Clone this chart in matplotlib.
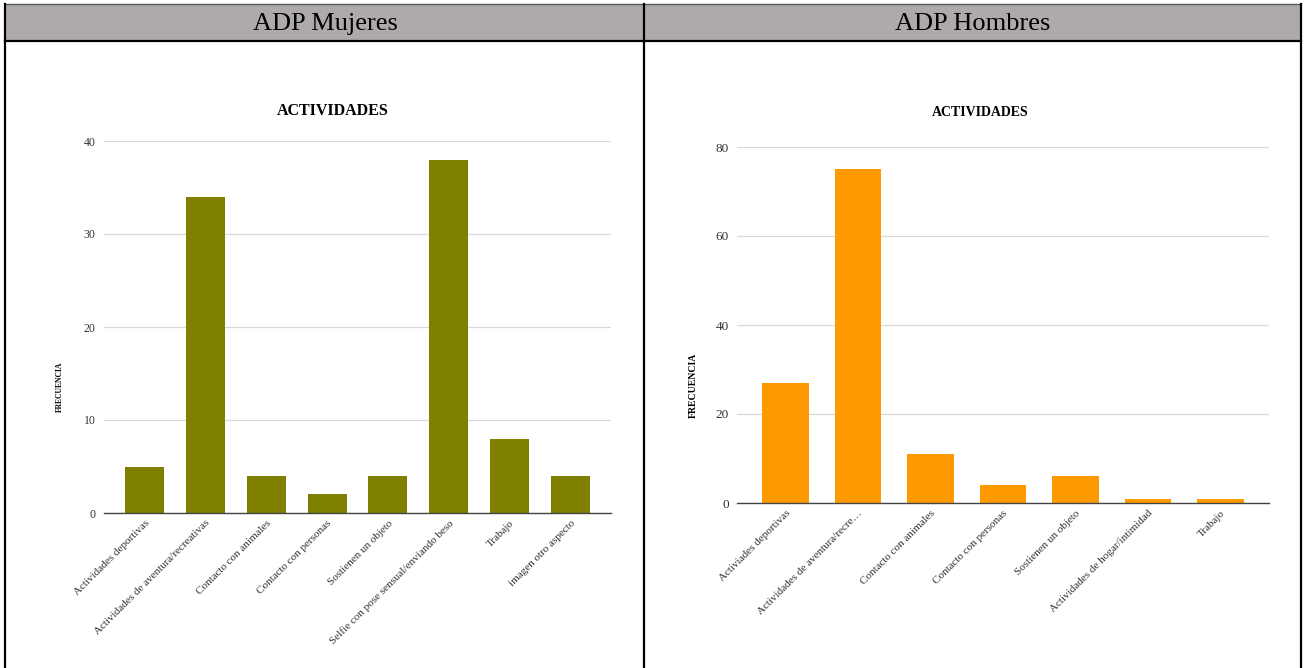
import matplotlib
matplotlib.use('Agg')
import matplotlib.pyplot as plt
from matplotlib.patches import Rectangle
from matplotlib.lines import Line2D

plt.rcParams['font.family'] = ['Liberation Serif', 'DejaVu Serif']

# ADP Mujeres
cats_m = ['Actividades deportivas', 'Actividades de aventura/recreativas',
          'Contacto con animales', 'Contacto con personas', 'Sostienen un objeto',
          'Selfie con pose sensual/enviando beso', 'Trabajo', 'imagen otro aspecto']
vals_m = [5, 34, 4, 2, 4, 38, 8, 4]

# ADP Hombres
cats_h = ['Activiades deportivas', 'Actividades de aventura/recre…',
          'Contacto con animales', 'Contacto con personas', 'Sostienen un objeto',
          'Actividades de hogar/intimidad', 'Trabajo']
vals_h = [27, 75, 11, 4, 6, 1, 1]

W, H = 1306, 668
fig = plt.figure(figsize=(W / 100, H / 100), dpi=100)


def fx(px):
    return px / W


def fy(py):
    return 1 - py / H


# table frame with gray header row
fig.add_artist(Rectangle((fx(5), fy(41)), fx(1301) - fx(5), fy(4) - fy(41),
                         transform=fig.transFigure, facecolor='#aeaaaa',
                         edgecolor='none', zorder=0))
fig.add_artist(Line2D([fx(5), fx(1301)], [fy(4), fy(4)],
                      transform=fig.transFigure, color='#555555', lw=1.0))
lines = [((5, 1301), (41, 41)),
         ((5, 5), (4, 668)), ((644, 644), (4, 668)), ((1301, 1301), (4, 668))]
for xs, ys in lines:
    fig.add_artist(Line2D([fx(x) for x in xs], [fy(y) for y in ys],
                          transform=fig.transFigure, color='black', lw=1.6))

fig.text(fx(325), fy(24), 'ADP Mujeres', ha='center', va='center', fontsize=19)
fig.text(fx(973), fy(24), 'ADP Hombres', ha='center', va='center', fontsize=19)


def bar_chart(rect, cats, vals, color, ymax, step, tick_fs, lab_fs):
    ax = fig.add_axes(rect)
    x = range(len(cats))
    ax.bar(x, vals, width=0.64, color=color, zorder=3)
    ax.set_xlim(-0.67, len(cats) - 0.33)
    ax.set_ylim(0, ymax)
    ax.set_yticks(range(0, ymax + 1, step))
    ax.yaxis.grid(True, color='#d9d9d9', lw=0.9, zorder=0)
    for s in ['top', 'right', 'left']:
        ax.spines[s].set_visible(False)
    ax.spines['bottom'].set_color('#444444')
    ax.spines['bottom'].set_linewidth(1)
    ax.spines['bottom'].set_zorder(4)
    ax.tick_params(axis='both', length=0, colors='#333333')
    ax.tick_params(axis='y', labelsize=tick_fs, pad=6)
    ax.set_xticks(list(x))
    ax.set_xticklabels(cats, rotation=45, ha='right', rotation_mode='anchor',
                       fontsize=lab_fs)
    ax.tick_params(axis='x', pad=4)
    return ax


bar_chart([fx(104), fy(513), fx(611) - fx(104), fy(141) - fy(513)],
          cats_m, vals_m, '#808000', 40, 10, 8.5, 8)
bar_chart([fx(737), fy(503), fx(1269) - fx(737), fy(147) - fy(503)],
          cats_h, vals_h, '#ff9900', 80, 20, 9.5, 8)

fig.text(fx(333), fy(111), 'ACTIVIDADES', ha='center', va='center',
         fontsize=11.5, fontweight='bold')
fig.text(fx(980), fy(113), 'ACTIVIDADES', ha='center', va='center',
         fontsize=10, fontweight='bold')
fig.text(fx(60), fy(387), 'FRECUENCIA', ha='center', va='center',
         rotation=90, fontsize=5.5, fontweight='bold')
fig.text(fx(693), fy(385), 'FRECUENCIA', ha='center', va='center',
         rotation=90, fontsize=7, fontweight='bold')

fig.savefig('out.png', dpi=100)
